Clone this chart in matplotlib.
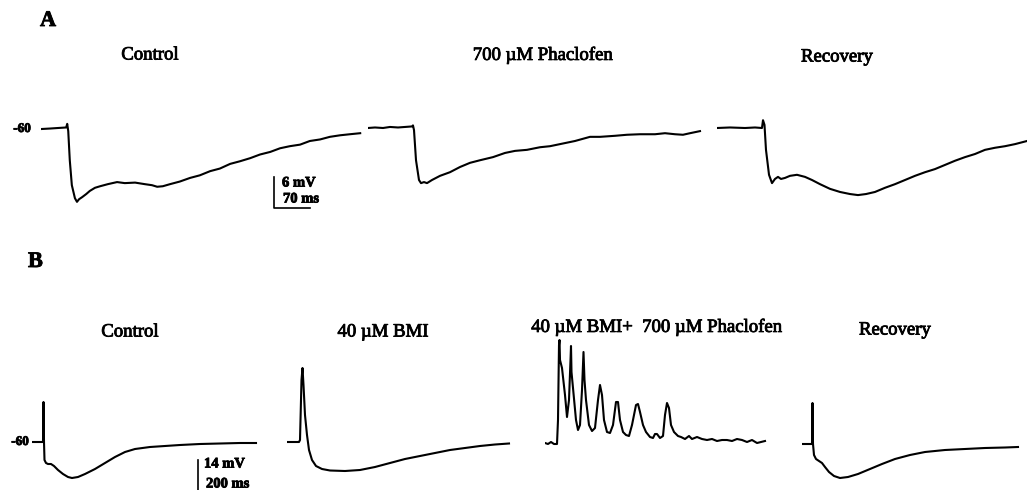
import numpy as np
import matplotlib
matplotlib.use('Agg')
import matplotlib.pyplot as plt
import matplotlib.patheffects as pe

plt.rcParams['font.family'] = ['Liberation Serif', 'DejaVu Serif']

W, H = 1028, 490

# ---- A: GABA-B IPSPs (ms, mV) ----
ctl_a_t = [0, 18, 33, 49, 51, 53, 56, 60, 66, 70, 74, 80, 88, 95, 105, 115, 130, 148, 163, 183,
           202, 216, 226, 237, 251, 270, 290, 309, 329, 348, 368, 387, 407, 426, 446, 465, 484,
           504, 523, 543, 562, 582, 601, 621]
ctl_a_v = [-60.2, -60.1, -60.0, -59.9, -59.2, -60.6, -66.2, -71.0, -73.5, -74.2, -73.7, -73.3,
           -72.7, -72.1, -71.5, -71.2, -70.8, -70.4, -70.6, -70.5, -70.8, -71.0, -71.3, -71.2,
           -70.8, -70.3, -69.6, -69.1, -68.3, -67.8, -66.9, -66.4, -65.8, -65.1, -64.6, -63.9,
           -63.5, -63.2, -62.5, -62.2, -61.7, -61.4, -61.2, -61.0]

phac_a_t = [0, 13.6, 29.2, 42.8, 58.4, 72.0, 85.6, 87.5, 89.5, 93.4, 99.2, 103.1, 108.9, 114.8,
            124.5, 140.1, 159.5, 179.0, 198.4, 217.9, 243.2, 266.5, 286.0, 309.3, 334.6, 354.1,
            373.5, 402.7, 431.9, 451.4, 480.5, 503.9, 529.2, 558.4, 577.8, 597.3, 612.8, 626.5,
            645.9]
phac_a_v = [-60.0, -59.9, -60.0, -59.8, -59.9, -59.8, -59.7, -59.5, -60.4, -66.2, -70.0, -70.6,
            -70.4, -70.6, -70.0, -69.2, -68.5, -67.5, -66.7, -66.2, -65.6, -64.8, -64.4, -64.2,
            -63.7, -63.5, -63.1, -62.5, -61.7, -61.7, -61.5, -61.3, -61.2, -61.2, -61.0, -61.2,
            -61.3, -61.0, -60.6]

rec_a_t = [0, 25.3, 54.5, 73.9, 87.5, 89.5, 92.4, 95.3, 101.2, 107.0, 112.8, 118.7, 124.5, 132.3,
           142.0, 155.6, 171.2, 184.8, 200.4, 219.8, 239.3, 258.8, 274.3, 289.9, 307.4, 326.8,
           346.3, 365.8, 385.2, 404.7, 424.1, 443.6, 463.0, 482.5, 502.0, 521.4, 540.9, 560.3,
           579.8, 603.1]
rec_a_v = [-60.0, -59.9, -60.0, -59.9, -60.0, -58.5, -59.4, -64.2, -69.0, -70.6, -69.8, -69.4,
           -69.8, -69.6, -69.2, -69.0, -69.4, -70.0, -70.8, -71.7, -72.3, -72.7, -72.9, -72.7,
           -72.3, -71.5, -70.8, -70.0, -69.2, -68.5, -67.9, -67.1, -66.3, -65.6, -65.0, -64.2,
           -63.8, -63.5, -63.1, -62.5]

# ---- B: BMI / phaclofen (ms, mV) ----
ctl_b_t = [0, 50, 55, 57.5, 60, 62.5, 70, 80, 95, 110, 130, 155, 180, 200, 230, 265, 315, 365,
           415, 465, 515, 590, 665, 740, 840, 940, 1040, 1120]
ctl_b_v = [-60, -60, -60, -44, -60, -67.2, -68.4, -68.8, -68.8, -69.6, -71.2, -72.8, -74.0,
           -74.4, -74.0, -72.8, -70.8, -68.4, -66.0, -64.0, -62.8, -62.0, -61.6, -61.2, -60.8,
           -60.6, -60.4, -60.4]

bmi_b_t = [0, 60, 65, 72.5, 77.5, 82.5, 90, 100, 110, 125, 145, 175, 215, 290, 365, 440, 515,
           590, 665, 740, 815, 890, 965, 1040, 1110]
bmi_b_v = [-60, -60, -59.2, -35.2, -30.4, -37.2, -49.2, -57.2, -63.2, -67.2, -69.6, -70.8,
           -71.4, -71.6, -71.2, -70.0, -68.4, -66.8, -65.6, -64.4, -63.2, -62.4, -61.6, -61.0,
           -60.6]

bp_b_t = [0, 15, 30, 45, 60, 65, 70, 72.5, 75, 85, 100, 110, 120, 127.5, 130, 132.5, 140, 155,
          165, 175, 185, 192.5, 197.5, 205, 220, 235, 250, 265, 275, 285, 295, 310, 325, 340,
          355, 365, 375, 390, 405, 420, 435, 455, 465, 475, 490, 505, 525, 540, 550, 560, 575,
          590, 600, 610, 620, 630, 645, 665, 680, 700, 720, 735, 760, 785, 810, 835, 860, 885,
          910, 935, 960, 985, 1010, 1035, 1060, 1100]
bp_b_v = [-60.4, -60.8, -60.0, -60.8, -60.8, -51.2, -21.2, -19.2, -27.2, -30.4, -41.2, -50.0,
          -43.2, -27.2, -21.6, -32.0, -38.4, -51.2, -55.2, -53.2, -39.2, -24.0, -35.2, -43.2,
          -53.2, -55.6, -54.4, -43.2, -37.2, -41.2, -51.2, -56.0, -56.4, -53.2, -44.0, -44.0,
          -51.2, -56.0, -57.2, -57.6, -53.2, -45.2, -44.8, -48.0, -53.2, -56.0, -58.0, -58.4,
          -56.8, -56.8, -58.4, -57.6, -49.2, -44.4, -46.4, -53.2, -56.0, -57.6, -58.0, -58.8,
          -57.6, -58.8, -58.0, -58.8, -59.2, -58.8, -59.6, -59.2, -59.2, -59.6, -58.8, -59.2,
          -60.0, -59.2, -60.4, -59.6]

rec_b_t = [0, 50, 52.5, 55, 60, 70, 85, 100, 115, 135, 160, 190, 230, 280, 340, 400, 465, 540,
           615, 715, 815, 915, 1015, 1080]
rec_b_v = [-60.8, -60.8, -44.4, -60.8, -65.2, -66.8, -67.6, -68.4, -70.0, -72.0, -73.6, -74.4,
           -74.0, -72.8, -70.8, -68.8, -66.8, -65.2, -64.0, -63.2, -62.8, -62.4, -62.2, -62.0]

fig = plt.figure(figsize=(W / 100, H / 100), dpi=100)


def trace_axes(x0, y60, px_ms, px_mv, tmax, vmin, vmax):
    # axes whose data units are ms / mV, anchored at pixel position of t=0, -60 mV
    left = x0 / W
    width = tmax * px_ms / W
    bottom = 1 - (y60 + (-60 - vmin) * px_mv) / H
    height = (vmax - vmin) * px_mv / H
    ax = fig.add_axes([left, bottom, width, height])
    ax.set_xlim(0, tmax)
    ax.set_ylim(vmin, vmax)
    ax.axis('off')
    return ax


heavy = [pe.withStroke(linewidth=0.6, foreground='black')]


def label(x, y, s, size=13.5, ha='center', weight='normal'):
    fig.text(x / W, 1 - y / H, s, ha=ha, va='center', fontsize=size, fontweight=weight,
             path_effects=heavy)


lw = 1.5

# row A
pxa_ms, pxa_mv = 0.514, 5.2
ax = trace_axes(41, 128, pxa_ms, pxa_mv, 640, -77, -56)
ax.plot(ctl_a_t, ctl_a_v, color='black', lw=lw)
ax.plot([453, 453, 523], [-69.4, -75.4, -75.4], color='black', lw=1.2, clip_on=False)
ax = trace_axes(368, 128, pxa_ms, pxa_mv, 650, -77, -56)
ax.plot(phac_a_t, phac_a_v, color='black', lw=lw)
ax = trace_axes(717, 128, pxa_ms, pxa_mv, 604, -77, -56)
ax.plot(rec_a_t, rec_a_v, color='black', lw=lw)

# row B
pxb_ms, pxb_mv = 0.2, 2.5
ax = trace_axes(32, 442, pxb_ms, pxb_mv, 1130, -80, -16)
ax.plot(ctl_b_t, ctl_b_v, color='black', lw=lw)
ax.plot([830, 830, 1030], [-67.2, -81.2, -81.2], color='black', lw=1.2, clip_on=False)
ax = trace_axes(287, 442, pxb_ms, pxb_mv, 1120, -80, -16)
ax.plot(bmi_b_t, bmi_b_v, color='black', lw=lw)
ax = trace_axes(545, 442, pxb_ms, pxb_mv, 1110, -80, -16)
ax.plot(bp_b_t, bp_b_v, color='black', lw=lw)
ax = trace_axes(802, 442, pxb_ms, pxb_mv, 1090, -80, -16)
ax.plot(rec_b_t, rec_b_v, color='black', lw=lw)

# panel letters and titles
label(40, 21, 'A', size=16, ha='left', weight='bold')
label(150, 55, 'Control')
label(543, 55, '700 \u00b5M Phaclofen')
label(837, 57, 'Recovery')
label(31, 129, '-60', size=9.5, ha='right', weight='bold')
label(282, 183, '6 mV', size=10.5, ha='left', weight='bold')
label(283, 199, '70 ms', size=10.5, ha='left', weight='bold')

label(28, 262, 'B', size=16, ha='left', weight='bold')
label(130, 332, 'Control')
label(383, 332, '40 \u00b5M BMI')
label(657, 327, '40 \u00b5M BMI+  700 \u00b5M Phaclofen')
label(895, 330, 'Recovery')
label(29, 442, '-60', size=9.5, ha='right', weight='bold')
label(204, 464, '14 mV', size=10.5, ha='left', weight='bold')
label(206, 484, '200 ms', size=10.5, ha='left', weight='bold')

fig.savefig('out.png', dpi=100, facecolor='white')
